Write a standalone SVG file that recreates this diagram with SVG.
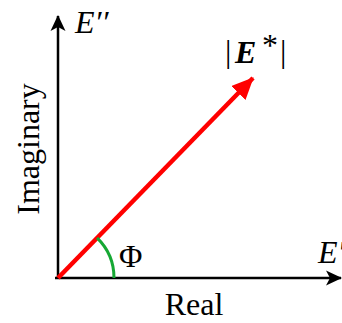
<svg xmlns="http://www.w3.org/2000/svg" width="342" height="323" viewBox="0 0 342 323">
  <style>
    .t { font-family: "Liberation Serif", "Times New Roman", serif; font-size: 32px; fill: #000; }
    .it { font-style: italic; }
    .axis { stroke: #000; stroke-width: 2.5; fill: none; }
  </style>
  <defs>
    <marker id="ah" viewBox="0 0 16 16" refX="15" refY="8" markerWidth="16" markerHeight="16" markerUnits="userSpaceOnUse" orient="auto">
      <path d="M16,8 L0,0.5 L4,8 L0,15.5 Z" fill="#000"/>
    </marker>
    <marker id="rh" viewBox="0 0 22 20" refX="21" refY="10" markerWidth="22" markerHeight="20" markerUnits="userSpaceOnUse" orient="auto">
      <path d="M22,10 L0,0 L0,20 Z" fill="#ff0000"/>
    </marker>
  </defs>
  <g id="connectors">
    <line id="imag-axis" class="axis" x1="58" y1="279" x2="58" y2="16" marker-end="url(#ah)"/>
    <line id="real-axis" class="axis" x1="55" y1="278" x2="341" y2="278" marker-end="url(#ah)"/>
    <line id="vector" x1="58" y1="278" x2="253" y2="78" stroke="#ff0000" stroke-width="4.5" marker-end="url(#rh)"/>
    <path id="angle-arc" d="M114,278 A56,56 0 0 0 97.1,237.9" fill="none" stroke="#16a834" stroke-width="3"/>
  </g>
  <g id="label-E2">
    <text class="t it" x="75" y="33" font-size="34">E′′</text>
  </g>
  <g id="label-Estar">
    <text class="t" x="225" y="62" font-size="36">|</text>
    <text class="t" x="235" y="63" font-size="36" font-weight="bold" font-style="italic">E</text>
    <text class="t" x="262" y="56" font-size="22">*</text>
    <text class="t" x="280" y="62" font-size="36">|</text>
  </g>
  <g id="label-imaginary">
    <text class="t" transform="translate(39,149) rotate(-90)" text-anchor="middle" font-size="36">Imaginary</text>
  </g>
  <g id="label-phi">
    <text class="t" x="119" y="267" font-size="35">Φ</text>
  </g>
  <g id="label-E1">
    <text class="t it" x="318" y="263" font-size="35">E′</text>
  </g>
  <g id="label-real">
    <text class="t" x="194" y="315" text-anchor="middle" font-size="32">Real</text>
  </g>
</svg>
